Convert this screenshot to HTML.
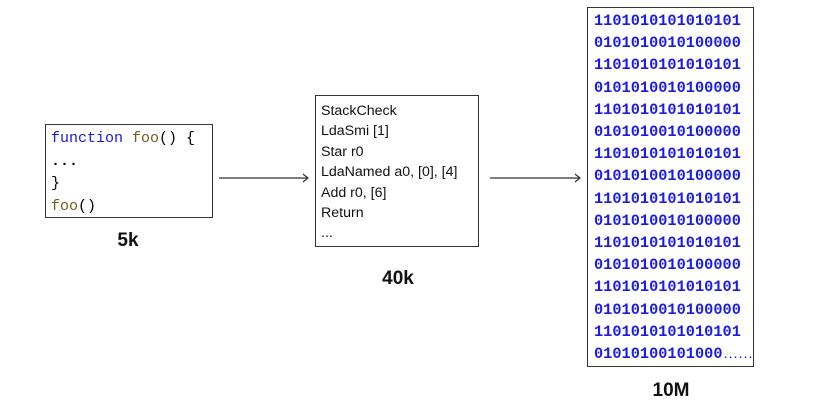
<!DOCTYPE html>
<html><head><style>
body{margin:0;width:840px;height:416px;background:#fff;position:relative;overflow:hidden;font-family:"Liberation Sans",sans-serif}
.box{position:absolute;border:1.5px solid #333;box-sizing:border-box;background:#fff}
.mono{font-family:"Liberation Mono",monospace}
.lbl{position:absolute;font-weight:bold;font-size:19px;color:#111;transform:translateX(-50%)}
</style></head><body>
<div class="box mono" style="left:45px;top:124px;width:168px;height:94px;padding:3px 0 0 5px;font-size:15px;line-height:22.5px">
<div><span style="color:#1a1ae0">function</span> <span style="color:#7a5a18">foo</span>() {</div>
<div style="font-weight:bold">...</div>
<div>}</div>
<div><span style="color:#7a5a18">foo</span>()</div>
</div>
<div class="lbl" style="left:128px;top:230px">5k</div>
<div class="box" style="left:315px;top:95px;width:164px;height:152px;padding:5px 0 0 5px;font-size:14.2px;line-height:20.4px;color:#111;white-space:nowrap">
StackCheck<br>LdaSmi [1]<br>Star r0<br>LdaNamed a0, [0], [4]<br>Add r0, [6]<br>Return<br>...
</div>
<div class="lbl" style="left:398px;top:268px">40k</div>
<div class="box mono" style="left:587px;top:7px;width:167px;height:360px;padding:2px 0 0 6px;font-size:15.3px;line-height:22.2px;color:#1a1ae6;font-weight:bold;white-space:nowrap">
1101010101010101<br>0101010010100000<br>1101010101010101<br>0101010010100000<br>1101010101010101<br>0101010010100000<br>1101010101010101<br>0101010010100000<br>1101010101010101<br>0101010010100000<br>1101010101010101<br>0101010010100000<br>1101010101010101<br>0101010010100000<br>1101010101010101<br>01010100101000<span style="font-size:10px;letter-spacing:-1px">......</span>
</div>
<div class="lbl" style="left:671px;top:380px">10M</div>
<svg style="position:absolute;left:0;top:0" width="840" height="416">
<g stroke="#333" stroke-width="1.2" fill="none">
<line x1="219" y1="178" x2="308" y2="178"/><polyline points="303,174 308,178 303,182"/>
<line x1="490" y1="178" x2="580" y2="178"/><polyline points="575,174 580,178 575,182"/>
</g></svg>
</body></html>
